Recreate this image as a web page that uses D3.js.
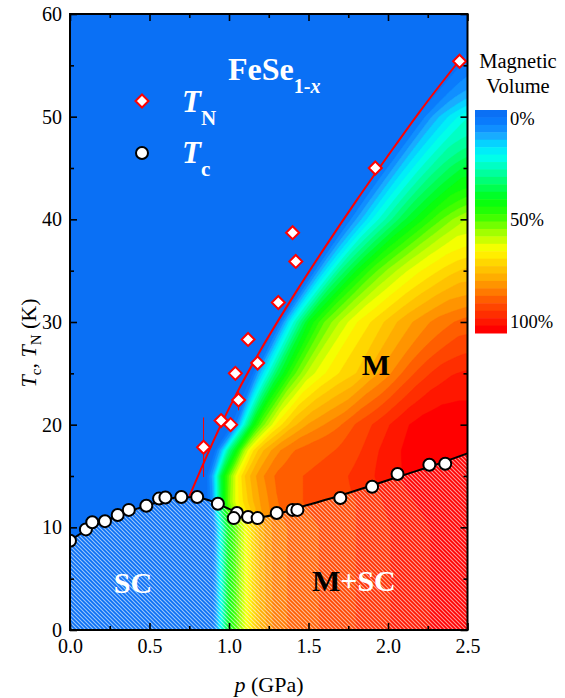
<!DOCTYPE html>
<html>
<head>
<meta charset="utf-8">
<script src="https://cdn.jsdelivr.net/npm/d3@7"></script>
<style>
body { margin: 0; background: #fff; }
text { font-family: "Liberation Serif", "Times New Roman", serif; }
</style>
</head>
<body>
<svg id="chart" width="565" height="698"></svg>
<script>
// T_N punten (ruit) met foutbalken
const TN_P = [0.84, 0.95, 1.01, 1.06, 1.04, 1.18, 1.12, 1.31, 1.42, 1.40, 1.92, 2.45];
const TN_T = [17.8, 20.4, 20.0, 22.4, 25.0, 26.0, 28.3, 31.9, 35.9, 38.7, 45.0, 55.4];
const TN_ERR = [2.9, 0, 0, 1.0, 0, 0, 0, 0, 0, 0, 0, 0];

// T_c punten (cirkel)
const TC_P = [0.0, 0.10, 0.14, 0.22, 0.30, 0.37, 0.48, 0.56, 0.60, 0.70, 0.80, 0.93, 1.05, 1.03, 1.12, 1.18, 1.30, 1.40, 1.43, 1.70, 1.90, 2.06, 2.26, 2.36];
const TC_T = [8.7, 9.8, 10.5, 10.6, 11.2, 11.7, 12.1, 12.8, 12.9, 12.95, 12.95, 12.3, 11.4, 10.9, 11.0, 10.9, 11.4, 11.7, 11.7, 12.85, 13.95, 15.2, 16.1, 16.2];

// lijnen door de punten
const TN_LINE_P = [0.75, 0.85, 0.95, 1.05, 1.2, 1.4, 1.6, 1.8, 2.0, 2.2, 2.45];
const TN_LINE_T = [13, 16.6, 20.0, 23.1, 27.3, 32.4, 37.2, 41.8, 46.2, 50.5, 55.5];
const TC_LINE_P = [0, 0.1, 0.2, 0.3, 0.4, 0.5, 0.6, 0.7, 0.8, 0.9, 1.0, 1.1, 1.2, 1.3, 1.5, 1.7, 1.9, 2.1, 2.3, 2.5];
const TC_LINE_T = [8.7, 9.7, 10.5, 11.1, 11.7, 12.2, 12.7, 12.95, 12.9, 12.5, 11.8, 11.2, 11.0, 11.3, 12.2, 13.1, 14.1, 15.1, 16.1, 17.2];

// magnetisch volume (%) op een rooster: kolommen = druk, rijen = temperatuur
const GRID_P = [0, 0.5, 0.8, 0.85, 0.9, 0.95, 1.0, 1.05, 1.1, 1.15, 1.2, 1.3, 1.4, 1.5, 1.6, 1.7, 1.8, 1.9, 2.0, 2.1, 2.2, 2.3, 2.4, 2.5];
const GRID_T = [0, 10, 12.5, 15, 17.5, 20, 25, 30, 35, 40, 45, 50, 55, 60];
const MAG_VOL = [
  [0,0,0,0, 3,20,40,50,60,67,74,82,84,86,87,88,90,91,93,95,96,97,98,99],
  [0,0,0,0, 4,22,42,52,61,68,75,82,84,86,87,88,90,91,93,95,96,97,98,99],
  [0,0,0,0,10,35,52,62,68,73,77,83,86,87,88,89,90,92,94,96,97,98,98,99],
  [0,0,0,0,12,36,50,62,70,75,79,84,86,87,88,89,91,93,95,97,98,99,99,99],
  [0,0,0,0, 0,12,30,42,56,66,72,79,83,85,86,87,89,92,95,97,98,99,99,99],
  [0,0,0,0, 0, 0, 0, 8,25,40,50,64,72,77,80,83,87,90,93,96,98,99,99,99],
  [0,0,0,0, 0, 0, 0, 0, 0, 3,14,34,48,58,63,67,70,75,79,84,88,91,93,94],
  [0,0,0,0, 0, 0, 0, 0, 0, 0, 0, 0,22,40,50,57,63,67,71,75,78,81,83,85],
  [0,0,0,0, 0, 0, 0, 0, 0, 0, 0, 0, 0, 0,16,30,40,48,54,59,63,66,69,71],
  [0,0,0,0, 0, 0, 0, 0, 0, 0, 0, 0, 0, 0, 0, 0,10,20,28,36,42,48,53,57],
  [0,0,0,0, 0, 0, 0, 0, 0, 0, 0, 0, 0, 0, 0, 0, 0, 0, 7,16,23,29,34,38],
  [0,0,0,0, 0, 0, 0, 0, 0, 0, 0, 0, 0, 0, 0, 0, 0, 0, 0, 0, 4,12,18,23],
  [0,0,0,0, 0, 0, 0, 0, 0, 0, 0, 0, 0, 0, 0, 0, 0, 0, 0, 0, 0, 0, 0, 6],
  [0,0,0,0, 0, 0, 0, 0, 0, 0, 0, 0, 0, 0, 0, 0, 0, 0, 0, 0, 0, 0, 0, 0]
];

// kleurenschaal (jet-achtig) en kleurbalk
const CMAP_STOPS = [0, .05, .10, .15, .20, .26, .33, .40, .47, .55, .63, .70, .76, .82, .88, .94, 1];
const CMAP_COLORS = ["#0a70f5", "#0a80ff", "#1aa8ff", "#00e0ff", "#00fff0", "#00ffb0", "#00ff60", "#00ff10", "#30ff00", "#a0ff00", "#ffff00", "#ffd000", "#ffac00", "#ff8000", "#ff5000", "#ff2800", "#ff0000"];
const N_LEVELS = 30;
const CBAR_TICKS = [0, 50, 100];

const X_MAJOR = [0, 0.5, 1.0, 1.5, 2.0, 2.5];
const X_MINOR = [0.25, 0.75, 1.25, 1.75, 2.25];
const Y_MAJOR = [0, 10, 20, 30, 40, 50, 60];
const Y_MINOR = [5, 15, 25, 35, 45, 55];

const svg = d3.select('#chart');
const x = d3.scaleLinear().domain([0, 2.5]).range([70, 467.5]);
const y = d3.scaleLinear().domain([0, 60]).range([630, 14]);
const cmap = d3.scaleLinear().domain(CMAP_STOPS).range(CMAP_COLORS);
const levelColor = k => cmap(k / (N_LEVELS - 1));

const defs = svg.append('defs');
defs.append('clipPath').attr('id', 'plotClip')
    .append('rect')
    .attr('x', x(0)).attr('y', y(60))
    .attr('width', x(2.5) - x(0)).attr('height', y(0) - y(60));
const pat = defs.append('pattern')
    .attr('id', 'hatch')
    .attr('patternUnits', 'userSpaceOnUse')
    .attr('width', 4).attr('height', 4);
pat.append('path')
    .attr('d', 'M-1,-1L5,5M-1,3L1,5M3,-1L5,1')
    .attr('stroke', '#fff')
    .attr('stroke-width', 1.1)
    .attr('stroke-opacity', 0.6);

// ---- veld: rijen worden langs de rand van het magnetische gebied verschoven en gemengd
const rowEdge = MAG_VOL.map(row => {
    let e = GRID_P[0];
    row.forEach((v, i) => { if (v === 0) e = GRID_P[i]; });
    return e;
});
const rowValue = (j, p) => {
    const row = MAG_VOL[j];
    if (p <= GRID_P[0]) return row[0];
    if (p >= GRID_P[GRID_P.length - 1]) return row[row.length - 1];
    const i = d3.bisectRight(GRID_P, p) - 1;
    const t = (p - GRID_P[i]) / (GRID_P[i + 1] - GRID_P[i]);
    return row[i] + t * (row[i + 1] - row[i]);
};
const magVol = (p, T) => {
    let j = d3.bisectRight(GRID_T, T) - 1;
    j = Math.max(0, Math.min(GRID_T.length - 2, j));
    const s = (T - GRID_T[j]) / (GRID_T[j + 1] - GRID_T[j]);
    const e = rowEdge[j] + s * (rowEdge[j + 1] - rowEdge[j]);
    const u = p - e;
    const a = rowValue(j, rowEdge[j] + u);
    const b = rowValue(j + 1, rowEdge[j + 1] + u);
    return a + s * (b - a);
};

const NX = 251, NY = 241, DP = 2.5 / (NX - 1), DT = 60 / (NY - 1);
const values = new Float64Array(NX * NY);
for (let j = 0; j < NY; j++) {
    for (let i = 0; i < NX; i++) values[i + j * NX] = magVol(i * DP, 60 - j * DT);
}
const thresholds = d3.range(1, N_LEVELS).map(k => k * 100 / N_LEVELS);
const bands = d3.contours().size([NX, NY]).thresholds(thresholds)(values);
const proj = d3.geoTransform({
    point(gx, gy) { this.stream.point(x((gx - 0.5) * DP), y(60 - (gy - 0.5) * DT)); }
});
const geo = d3.geoPath(proj);

const plot = svg.append('g').attr('clip-path', 'url(#plotClip)');
plot.append('rect')
    .attr('x', x(0)).attr('y', y(60))
    .attr('width', x(2.5) - x(0)).attr('height', y(0) - y(60))
    .attr('fill', levelColor(0));
plot.append('g').selectAll('path')
    .data(bands)
    .join('path')
    .attr('d', geo)
    .attr('fill', (d, k) => levelColor(k + 1))
    .attr('stroke', (d, k) => levelColor(k + 1))
    .attr('stroke-width', 0.4);

// gearceerd gebied onder T_c
const tcLine = d3.zip(TC_LINE_P, TC_LINE_T);
plot.append('path')
    .datum(tcLine)
    .attr('d', d3.area().x(d => x(d[0])).y0(y(0)).y1(d => y(d[1])).curve(d3.curveMonotoneX))
    .attr('fill', 'url(#hatch)');

// lijnen
const line = d3.line().x(d => x(d[0])).y(d => y(d[1])).curve(d3.curveMonotoneX);
plot.append('path')
    .datum(d3.zip(TN_LINE_P, TN_LINE_T))
    .attr('d', line)
    .attr('fill', 'none').attr('stroke', '#ff0000').attr('stroke-width', 2);
plot.append('path')
    .datum(tcLine)
    .attr('d', line)
    .attr('fill', 'none').attr('stroke', '#000').attr('stroke-width', 2);

// foutbalken
const tnData = TN_P.map((p, i) => ({ p, t: TN_T[i], e: TN_ERR[i] }));
plot.append('g').selectAll('line')
    .data(tnData.filter(d => d.e > 0))
    .join('line')
    .attr('x1', d => x(d.p)).attr('x2', d => x(d.p))
    .attr('y1', d => y(d.t - d.e)).attr('y2', d => y(d.t + d.e))
    .attr('stroke', '#ff0000').attr('stroke-width', 1);

const diamond = 'M0,-6.5L6.5,0L0,6.5L-6.5,0Z';
plot.append('g').selectAll('circle')
    .data(TC_P.map((p, i) => ({ p, t: TC_T[i] })))
    .join('circle')
    .attr('cx', d => x(d.p)).attr('cy', d => y(d.t))
    .attr('r', 6)
    .attr('fill', '#fff').attr('stroke', '#000').attr('stroke-width', 2);
plot.append('g').selectAll('path')
    .data(tnData)
    .join('path')
    .attr('d', diamond)
    .attr('transform', d => `translate(${x(d.p)},${y(d.t)})`)
    .attr('fill', '#fff').attr('stroke', '#ff0000').attr('stroke-width', 2);

// teksten in de grafiek
const fese = svg.append('text').attr('x', 228).attr('y', 80)
    .attr('fill', '#fff').attr('font-weight', 'bold').attr('font-size', 32);
fese.append('tspan').text('FeSe');
fese.append('tspan').attr('font-size', 20).attr('dy', 13).text('1-');
fese.append('tspan').attr('font-size', 20).attr('font-style', 'italic').text('x');

svg.append('path').attr('d', diamond).attr('transform', 'translate(142,101)')
    .attr('fill', '#fff').attr('stroke', '#ff0000').attr('stroke-width', 2);
svg.append('circle').attr('cx', 142).attr('cy', 153).attr('r', 6)
    .attr('fill', '#fff').attr('stroke', '#000').attr('stroke-width', 2);
[['N', 112], ['c', 163]].forEach(([sub, yy]) => {
    const t = svg.append('text').attr('x', 182).attr('y', yy)
        .attr('fill', '#fff').attr('font-weight', 'bold').attr('font-size', 31);
    t.append('tspan').attr('font-style', 'italic').text('T');
    t.append('tspan').attr('font-size', 21).attr('dy', 13).text(sub);
});

svg.append('text').attr('x', 376).attr('y', 375).attr('text-anchor', 'middle')
    .attr('font-weight', 'bold').attr('font-size', 30).attr('fill', '#000').text('M');
svg.append('text').attr('x', 133).attr('y', 593).attr('text-anchor', 'middle')
    .attr('font-weight', 'bold').attr('font-size', 30).attr('fill', '#fff').text('SC');
const msc = svg.append('text').attr('x', 312).attr('y', 591)
    .attr('font-weight', 'bold').attr('font-size', 30);
msc.append('tspan').attr('fill', '#000').text('M');
msc.append('tspan').attr('fill', '#fff').text('+SC');

// assen
const fmt = d3.format('.1f');
const axes = svg.append('g');
const styleAxis = g => {
    g.select('.domain').remove();
    g.selectAll('.tick line').attr('stroke', '#000').attr('stroke-width', 1.6);
    g.selectAll('.tick text').attr('fill', '#000')
        .style('font-family', '"Liberation Serif", "Times New Roman", serif').style('font-size', '20px');
};
axes.append('g').attr('transform', `translate(0,${y(0)})`)
    .call(d3.axisBottom(x).tickValues(X_MAJOR).tickFormat(fmt).tickSize(-7).tickPadding(9)).call(styleAxis);
axes.append('g').attr('transform', `translate(0,${y(0)})`)
    .call(d3.axisBottom(x).tickValues(X_MINOR).tickFormat('').tickSize(-4)).call(styleAxis);
axes.append('g').attr('transform', `translate(0,${y(60)})`)
    .call(d3.axisTop(x).tickValues(X_MAJOR).tickFormat('').tickSize(-7)).call(styleAxis);
axes.append('g').attr('transform', `translate(0,${y(60)})`)
    .call(d3.axisTop(x).tickValues(X_MINOR).tickFormat('').tickSize(-4)).call(styleAxis);
axes.append('g').attr('transform', `translate(${x(0)},0)`)
    .call(d3.axisLeft(y).tickValues(Y_MAJOR).tickFormat(d3.format('d')).tickSize(-7).tickPadding(8)).call(styleAxis);
axes.append('g').attr('transform', `translate(${x(0)},0)`)
    .call(d3.axisLeft(y).tickValues(Y_MINOR).tickFormat('').tickSize(-4)).call(styleAxis);
axes.append('g').attr('transform', `translate(${x(2.5)},0)`)
    .call(d3.axisRight(y).tickValues(Y_MAJOR).tickFormat('').tickSize(-7)).call(styleAxis);
axes.append('g').attr('transform', `translate(${x(2.5)},0)`)
    .call(d3.axisRight(y).tickValues(Y_MINOR).tickFormat('').tickSize(-4)).call(styleAxis);

svg.append('rect')
    .attr('x', x(0)).attr('y', y(60))
    .attr('width', x(2.5) - x(0)).attr('height', y(0) - y(60))
    .attr('fill', 'none').attr('stroke', '#000').attr('stroke-width', 2);

// astitels
const xt = svg.append('text').attr('x', 269).attr('y', 692).attr('text-anchor', 'middle').attr('font-size', 22);
xt.append('tspan').attr('font-style', 'italic').text('p');
xt.append('tspan').text(' (GPa)');

const yt = svg.append('text').attr('transform', 'translate(36,343) rotate(-90)')
    .attr('text-anchor', 'middle').attr('font-size', 22);
yt.append('tspan').attr('font-style', 'italic').text('T');
yt.append('tspan').attr('font-size', 15).attr('dy', 5).text('c');
yt.append('tspan').attr('dy', -5).text(', ');
yt.append('tspan').attr('font-style', 'italic').text('T');
yt.append('tspan').attr('font-size', 15).attr('dy', 5).text('N');
yt.append('tspan').attr('dy', -5).text(' (K)');

// kleurbalk
const cbX = 475, cbW = 32, cbTop = 110, cbBottom = 333;
const bandH = (cbBottom - cbTop) / N_LEVELS;
svg.append('g').selectAll('rect')
    .data(d3.range(N_LEVELS))
    .join('rect')
    .attr('x', cbX).attr('y', k => cbTop + k * bandH)
    .attr('width', cbW).attr('height', bandH + 0.5)
    .attr('fill', k => levelColor(k));
const cbScale = d3.scaleLinear().domain([0, 100]).range([118, 321.5]);
svg.append('g').selectAll('text')
    .data(CBAR_TICKS)
    .join('text')
    .attr('x', 510).attr('y', d => cbScale(d) + 6.5)
    .attr('font-size', 18.5).attr('fill', '#000')
    .text(d => d + '%');
svg.append('text').attr('x', 518).attr('y', 68).attr('text-anchor', 'middle')
    .attr('font-size', 20.5).text('Magnetic');
svg.append('text').attr('x', 518).attr('y', 93).attr('text-anchor', 'middle')
    .attr('font-size', 20.5).text('Volume');
</script>
</body>
</html>
